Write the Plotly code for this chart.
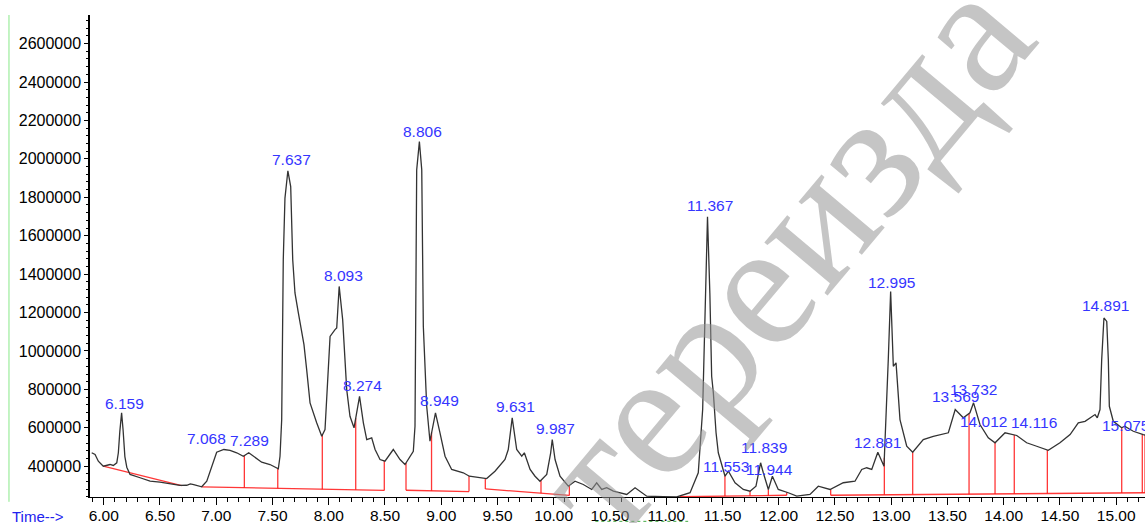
import numpy as np
import plotly.graph_objects as go

# Total ion chromatogram: retention time (min) and abundance
time_min = [
    5.893, 5.923, 5.952, 5.996, 6.056, 6.085, 6.116, 6.130, 6.143, 6.159,
    6.172, 6.188, 6.205, 6.234, 6.323, 6.412, 6.500, 6.589, 6.678, 6.738,
    6.770, 6.800, 6.841, 6.871, 6.916, 6.960, 7.004, 7.068, 7.123, 7.182,
    7.241, 7.289, 7.345, 7.404, 7.478, 7.552, 7.567, 7.582, 7.596, 7.611,
    7.637, 7.662, 7.680, 7.700, 7.730, 7.760, 7.780, 7.804, 7.834, 7.893,
    7.938, 7.967, 8.012, 8.056, 8.071, 8.093, 8.124, 8.160, 8.189, 8.225,
    8.274, 8.308, 8.338, 8.382, 8.412, 8.456, 8.500, 8.574, 8.634, 8.678,
    8.752, 8.767, 8.782, 8.806, 8.827, 8.841, 8.871, 8.900, 8.924, 8.949,
    8.989, 9.034, 9.093, 9.138, 9.196, 9.250, 9.345, 9.404, 9.478, 9.567,
    9.596, 9.631, 9.671, 9.716, 9.739, 9.790, 9.834, 9.878, 9.938, 9.973,
    9.987, 10.012, 10.056, 10.130, 10.189, 10.263, 10.338, 10.382, 10.427, 10.471,
    10.530, 10.649, 10.723, 10.767, 10.827, 10.974, 11.093, 11.212, 11.285, 11.324,
    11.345, 11.367, 11.388, 11.404, 11.419, 11.443, 11.463, 11.523, 11.553, 11.612,
    11.685, 11.745, 11.798, 11.819, 11.839, 11.863, 11.908, 11.944, 11.996, 12.085,
    12.160, 12.278, 12.352, 12.456, 12.574, 12.678, 12.738, 12.782, 12.827, 12.881,
    12.936, 12.974, 12.995, 13.019, 13.043, 13.078, 13.138, 13.191, 13.285, 13.374,
    13.508, 13.569, 13.641, 13.700, 13.732, 13.789, 13.863, 13.923, 14.012, 14.116,
    14.204, 14.293, 14.396, 14.500, 14.590, 14.663, 14.723, 14.812, 14.832, 14.856,
    14.871, 14.891, 14.916, 14.930, 14.939, 14.974, 15.049, 15.075, 15.152, 15.241,
    15.260,
]
abundance = [
    470000, 461000, 426000, 400000, 409000, 404000, 418000, 470000, 580000, 678000,
    590000, 450000, 395000, 357000, 340000, 322000, 317000, 310000, 300000, 301000,
    308000, 304000, 298000, 293000, 322000, 400000, 473000, 487000, 483000, 470000,
    452000, 470000, 444000, 421000, 409000, 387000, 452000, 643000, 1475000, 1796000,
    1938000, 1856000, 1475000, 1302000, 1198000, 1085000, 1033000, 903000, 730000, 626000,
    556000, 591000, 1076000, 1111000, 1120000, 1336000, 1163000, 799000, 660000, 600000,
    764000, 626000, 539000, 548000, 487000, 435000, 426000, 487000, 435000, 409000,
    478000, 608000, 1943000, 2090000, 1943000, 1128000, 712000, 530000, 608000, 678000,
    574000, 452000, 383000, 374000, 366000, 348000, 340000, 336000, 374000, 435000,
    487000, 652000, 487000, 452000, 470000, 383000, 348000, 322000, 357000, 470000,
    539000, 435000, 348000, 296000, 322000, 305000, 279000, 314000, 279000, 288000,
    270000, 253000, 288000, 270000, 244000, 241000, 240000, 262000, 366000, 695000,
    1150000, 1698000, 1300000, 868000, 782000, 574000, 470000, 348000, 374000, 314000,
    279000, 270000, 296000, 366000, 418000, 366000, 279000, 348000, 279000, 262000,
    244000, 253000, 296000, 279000, 314000, 322000, 383000, 392000, 383000, 473000,
    400000, 955000, 1310000, 920000, 938000, 643000, 504000, 473000, 539000, 556000,
    574000, 695000, 652000, 678000, 730000, 617000, 548000, 522000, 574000, 560000,
    522000, 504000, 483000, 522000, 565000, 626000, 634000, 669000, 652000, 695000,
    955000, 1172000, 1154000, 955000, 712000, 634000, 600000, 608000, 582000, 565000,
    562000,
]

# Labelled peaks (retention time, min)
peak_rt = [6.159, 7.068, 7.289, 7.637, 8.093, 8.274, 8.806, 8.949, 9.631, 9.987,
           11.367, 11.553, 11.839, 11.944, 12.881, 12.995, 13.569, 13.732, 14.012,
           14.116, 14.891, 15.075]
# label nudges (px) so crowded labels do not collide
label_dx = [3, -17, 1, 4, 4, 3, 3, 4, 3, 3,
            2, -2, 3, -3, 0, 1, 0, 0, -22,
            17, 2, 1]
label_dy = [9, 11, 12, 11, 11, 11, 10, 12, 11, 11,
            11, 5, 15, 7, 10, 9, 13, 13, 11,
            13, 12, 1]

# Integration baselines: start/end time, baseline abundance, split times
seg_start = [5.996, 6.871, 8.687, 9.392, 11.123, 12.462]
seg_end = [6.693, 8.494, 9.247, 10.139, 12.071, 15.256]
seg_base_start = [400000, 293000, 275000, 282000, 241000, 249000]
seg_base_end = [299000, 274000, 268000, 248000, 249000, 262000]
seg_splits = [[], [7.250, 7.547, 7.943, 8.240], [8.914], [9.887],
              [11.522, 11.745, 11.908],
              [12.939, 13.191, 13.692, 13.923, 14.094, 14.388, 15.049, 15.232]]

t_arr = np.array(time_min)
a_arr = np.array(abundance)

fig = go.Figure()

# baselines and drop lines
bx, by, dx, dy = [], [], [], []
for s, e, b0, b1, splits in zip(seg_start, seg_end, seg_base_start, seg_base_end, seg_splits):
    bx += [s, e, None]
    by += [b0, b1, None]
    for t in [s] + splits + [e]:
        base = b0 + (b1 - b0) * (t - s) / (e - s)
        top = float(np.interp(t, t_arr, a_arr))
        if top > base + 1000:
            dx += [t, t, None]
            dy += [base, top, None]

red = "rgba(255,20,20,0.85)"
fig.add_trace(go.Scatter(x=bx, y=by, mode="lines", line=dict(color=red, width=1.3),
                         hoverinfo="skip"))
fig.add_trace(go.Scatter(x=dx, y=dy, mode="lines", line=dict(color=red, width=1.3),
                         hoverinfo="skip"))

# chromatogram
fig.add_trace(go.Scatter(x=time_min, y=abundance, mode="lines",
                         line=dict(color="#333333", width=1.3),
                         hoverinfo="skip"))

# retention-time labels
for rt, ddx, ddy in zip(peak_rt, label_dx, label_dy):
    fig.add_annotation(x=rt, y=float(np.interp(rt, t_arr, a_arr)), text=f"{rt:.3f}",
                       showarrow=False, xanchor="center", yanchor="middle",
                       xshift=ddx, yshift=ddy,
                       font=dict(family="Arial, Liberation Sans", size=15.5, color="#3535ff"))

# axis caption
fig.add_annotation(xref="paper", yref="paper", x=-0.0758, y=-0.040,
                   text="Time-->", showarrow=False, xanchor="left", yanchor="middle",
                   font=dict(family="Arial, Liberation Sans", size=15, color="#2222ee"))

# watermark
fig.add_annotation(xref="paper", yref="paper", x=0.655, y=0.50,
                   xanchor="center", yanchor="middle",
                   text="тереизда", showarrow=False, textangle=-50,
                   font=dict(family="Liberation Serif, DejaVu Serif", size=180,
                             color="rgba(150,150,150,0.55)"))

# green frame marks
fig.add_shape(type="line", xref="paper", yref="paper", x0=-0.0768, x1=-0.0768,
              y0=1.0, y1=-0.01, line=dict(color="#88e888", width=1))
fig.add_shape(type="line", xref="paper", yref="paper", x0=0.479, x1=0.567,
              y0=-0.0505, y1=-0.0505, line=dict(color="#44aa44", width=1, dash="dot"))

fig.update_layout(
    width=1145, height=523,
    margin=dict(l=90, r=0, t=15, b=26),
    plot_bgcolor="white", paper_bgcolor="white",
    showlegend=False,
    xaxis=dict(range=[5.878, 15.256], showline=True, linecolor="black", linewidth=1,
               ticks="outside", ticklen=7, tickcolor="black", tick0=0, dtick=0.5,
               tickformat=".2f", showgrid=False, zeroline=False, ticklabelstandoff=-3,
               minor=dict(dtick=0.1, ticks="outside", ticklen=4, tickcolor="black"),
               tickfont=dict(family="Arial, Liberation Sans", size=15.5, color="black")),
    yaxis=dict(range=[239800, 2749000], showline=True, linecolor="black", linewidth=1.5,
               ticks="outside", ticklen=4, tickcolor="black", tick0=0, dtick=200000,
               tickformat="d", showgrid=False, zeroline=False,
               minor=dict(dtick=40000, ticks="outside", ticklen=2, tickcolor="black"),
               tickfont=dict(family="Arial, Liberation Sans", size=16, color="black")),
)

fig.write_html("out.html", config={"displayModeBar": False})
